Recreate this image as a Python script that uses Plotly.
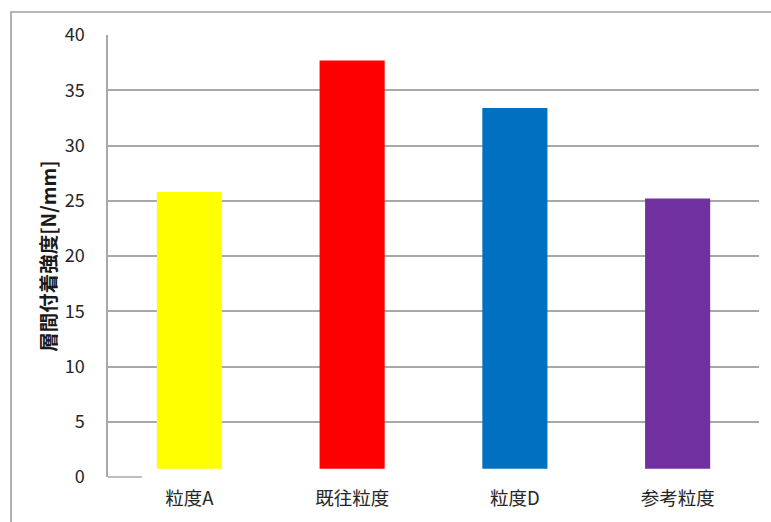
import plotly.graph_objects as go

# Interlayer bond strength by aggregate grading
categories = ["粒度A", "既往粒度", "粒度D", "参考粒度"]
strength = [25.8, 37.7, 33.4, 25.2]
bar_colors = ["#FFFF00", "#FF0000", "#0070C0", "#7030A0"]
y_ticks = [0, 5, 10, 15, 20, 25, 30, 35, 40]
bar_base = 0.75

font_family = "Noto Sans CJK JP, Noto Sans, sans-serif"
grid_color = "#a8a8a8"

fig = go.Figure(
    go.Bar(
        x=categories,
        y=[v - bar_base for v in strength],
        base=bar_base,
        marker=dict(color=bar_colors, line=dict(width=0)),
        width=0.4,
        hoverinfo="skip",
    )
)

fig.update_layout(
    width=771,
    height=522,
    margin=dict(l=108, r=12, t=35, b=45),
    paper_bgcolor="white",
    plot_bgcolor="white",
    showlegend=False,
    font=dict(family=font_family, color="#262626"),
    xaxis=dict(
        showline=False,
        showgrid=False,
        ticks="",
        tickfont=dict(size=18.5, color="#262626"),
        ticklabelstandoff=8,
    ),
    yaxis=dict(
        range=[0, 40],
        tickvals=y_ticks,
        showgrid=True,
        gridcolor=grid_color,
        gridwidth=1.5,
        zeroline=False,
        showline=True,
        linecolor=grid_color,
        linewidth=1.5,
        ticks="",
        ticklabelstandoff=18,
        tickfont=dict(size=18, color="#262626"),
        title=dict(
            text="<b>層間付着強度[N/mm]</b>",
            font=dict(size=19.5, color="#1a1a1a"),
            standoff=3,
        ),
    ),
    shapes=[
        # outer chart frame
        dict(type="rect", xref="paper", yref="paper",
             x0=-0.149, x1=1.2, y0=-0.3, y1=1.052,
             line=dict(color="#a0a0a0", width=1.6), fillcolor="rgba(0,0,0,0)",
             layer="below"),
        # short baseline stub at zero
        dict(type="line", xref="paper", yref="paper",
             x0=0, x1=0.052, y0=0, y1=0,
             line=dict(color=grid_color, width=1.5)),
    ],
)

fig.write_html("out.html")
